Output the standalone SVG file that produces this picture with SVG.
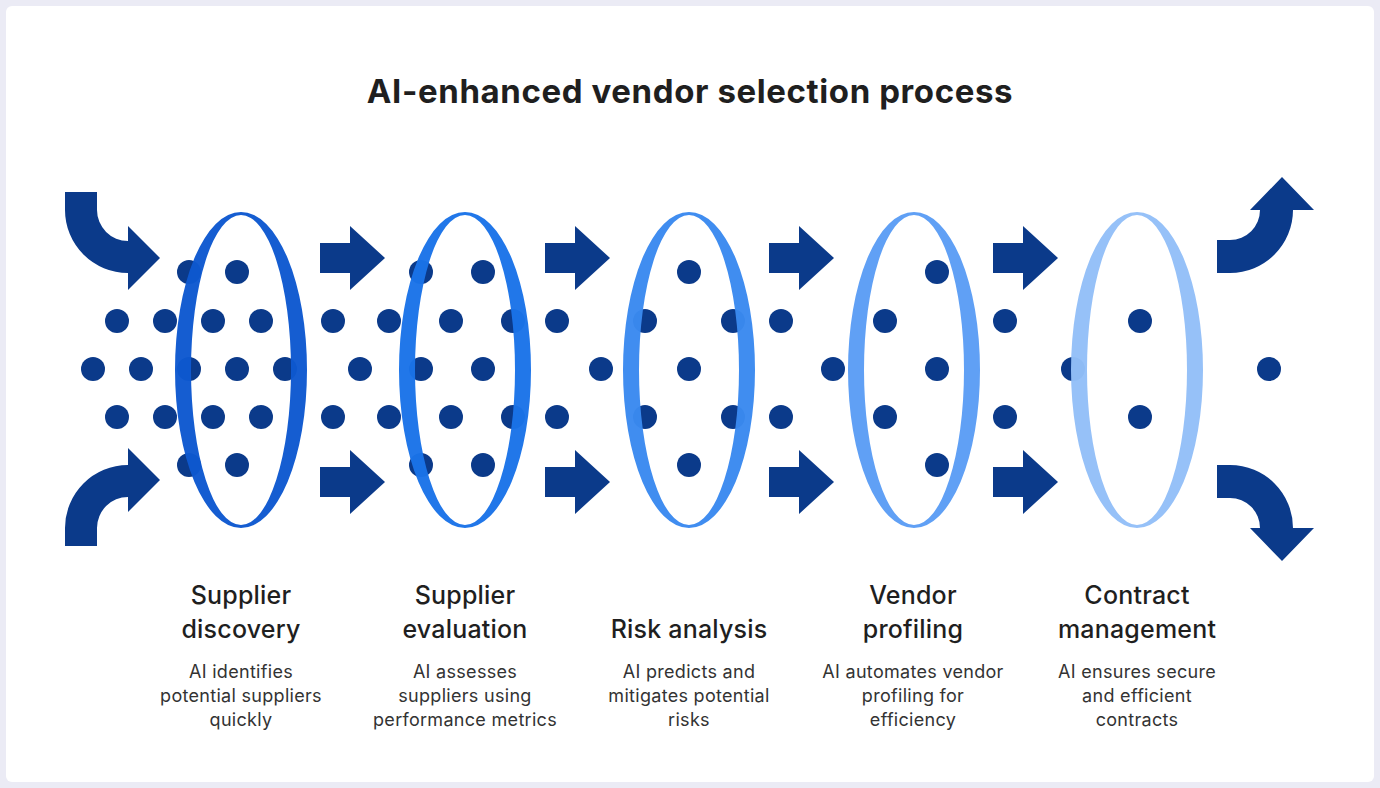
<svg xmlns="http://www.w3.org/2000/svg" width="1380" height="788" viewBox="0 0 1380 788">
<style>
.dot{fill:#0b3a8a}
.arr{fill:#0b3a8a}
.t{font-family:Inter,"Liberation Sans",sans-serif;text-anchor:middle}
.h{font-size:25px;font-weight:500;fill:#1f1f1f;letter-spacing:0.2px}
.d{font-size:18px;fill:#333;letter-spacing:0.3px}
</style>
<defs>
<path id="ring" fill-rule="evenodd" d="M-66,0 A66,158 0 1 0 66,0 A66,158 0 1 0 -66,0 Z M-50,0 A50,155 0 1 0 50,0 A50,155 0 1 0 -50,0 Z"/>
<path id="sa" d="M0,-15 H30 V-32 L65,0 L30,32 V15 H0 Z"/>
</defs>
<rect width="1380" height="788" fill="#ebebf5"/>
<rect x="6" y="6" width="1368" height="776" rx="6" fill="#fff"/>
<text class="t" x="690" y="103" font-size="33" font-weight="700" fill="#1f1f1f" letter-spacing="0.6">AI-enhanced vendor selection process</text>
<g id="connectors">
<path class="arr" d="M65,192 H97 V210 A31,31 0 0 0 128,241 V226 L160,258 L128,290 V273 A63,63 0 0 1 65,210 Z"/>
<path class="arr" d="M65,546 H97 V528 A31,31 0 0 1 128,497 V512 L160,480 L128,448 V465 A63,63 0 0 0 65,528 Z"/>
<path class="arr" d="M1217,240 H1230 A30,30 0 0 0 1260,210 H1250 L1282,177 L1314,210 H1293 A63,63 0 0 1 1230,273 H1217 Z"/>
<path class="arr" d="M1217,498 H1230 A30,30 0 0 1 1260,528 H1250 L1282,561 L1314,528 H1293 A63,63 0 0 0 1230,465 H1217 Z"/>
<use href="#sa" class="arr" x="320" y="258"/><use href="#sa" class="arr" x="320" y="482"/>
<use href="#sa" class="arr" x="545" y="258"/><use href="#sa" class="arr" x="545" y="482"/>
<use href="#sa" class="arr" x="769" y="258"/><use href="#sa" class="arr" x="769" y="482"/>
<use href="#sa" class="arr" x="993" y="258"/><use href="#sa" class="arr" x="993" y="482"/>
</g>
<g id="dots">
<circle class="dot" cx="189" cy="272" r="12"/><circle class="dot" cx="237" cy="272" r="12"/>
<circle class="dot" cx="117" cy="321" r="12"/><circle class="dot" cx="165" cy="321" r="12"/><circle class="dot" cx="213" cy="321" r="12"/><circle class="dot" cx="261" cy="321" r="12"/>
<circle class="dot" cx="93" cy="369" r="12"/><circle class="dot" cx="141" cy="369" r="12"/><circle class="dot" cx="189" cy="369" r="12"/><circle class="dot" cx="237" cy="369" r="12"/><circle class="dot" cx="285" cy="369" r="12"/>
<circle class="dot" cx="117" cy="417" r="12"/><circle class="dot" cx="165" cy="417" r="12"/><circle class="dot" cx="213" cy="417" r="12"/><circle class="dot" cx="261" cy="417" r="12"/>
<circle class="dot" cx="189" cy="465" r="12"/><circle class="dot" cx="237" cy="465" r="12"/>
<circle class="dot" cx="333" cy="321" r="12"/><circle class="dot" cx="389" cy="321" r="12"/><circle class="dot" cx="360" cy="369" r="12"/><circle class="dot" cx="333" cy="417" r="12"/><circle class="dot" cx="389" cy="417" r="12"/>
<circle class="dot" cx="421" cy="272" r="12"/><circle class="dot" cx="483" cy="272" r="12"/>
<circle class="dot" cx="451" cy="321" r="12"/><circle class="dot" cx="513" cy="321" r="12"/>
<circle class="dot" cx="421" cy="369" r="12"/><circle class="dot" cx="483" cy="369" r="12"/>
<circle class="dot" cx="451" cy="417" r="12"/><circle class="dot" cx="513" cy="417" r="12"/>
<circle class="dot" cx="421" cy="465" r="12"/><circle class="dot" cx="483" cy="465" r="12"/>
<circle class="dot" cx="557" cy="321" r="12"/><circle class="dot" cx="601" cy="369" r="12"/><circle class="dot" cx="557" cy="417" r="12"/>
<circle class="dot" cx="689" cy="272" r="12"/><circle class="dot" cx="645" cy="321" r="12"/><circle class="dot" cx="733" cy="321" r="12"/><circle class="dot" cx="689" cy="369" r="12"/><circle class="dot" cx="645" cy="417" r="12"/><circle class="dot" cx="733" cy="417" r="12"/><circle class="dot" cx="689" cy="465" r="12"/>
<circle class="dot" cx="781" cy="321" r="12"/><circle class="dot" cx="833" cy="369" r="12"/><circle class="dot" cx="781" cy="417" r="12"/>
<circle class="dot" cx="937" cy="272" r="12"/><circle class="dot" cx="885" cy="321" r="12"/><circle class="dot" cx="937" cy="369" r="12"/><circle class="dot" cx="885" cy="417" r="12"/><circle class="dot" cx="937" cy="465" r="12"/>
<circle class="dot" cx="1005" cy="321" r="12"/><circle class="dot" cx="1005" cy="417" r="12"/><circle class="dot" cx="1073" cy="369" r="12"/>
<circle class="dot" cx="1140" cy="321" r="12"/><circle class="dot" cx="1140" cy="417" r="12"/>
<circle class="dot" cx="1269" cy="369" r="12"/>
</g>
<g id="n1"><use href="#ring" x="241" y="370" fill="#0d58d0" opacity="0.97"/>
<text class="t h" x="241" y="604">Supplier</text><text class="t h" x="241" y="638">discovery</text>
<text class="t d" x="241" y="678">AI identifies</text><text class="t d" x="241" y="702">potential suppliers</text><text class="t d" x="241" y="726">quickly</text></g>
<g id="n2"><use href="#ring" x="465" y="370" fill="#1a73e8" opacity="0.97"/>
<text class="t h" x="465" y="604">Supplier</text><text class="t h" x="465" y="638">evaluation</text>
<text class="t d" x="465" y="678">AI assesses</text><text class="t d" x="465" y="702">suppliers using</text><text class="t d" x="465" y="726">performance metrics</text></g>
<g id="n3"><use href="#ring" x="689" y="370" fill="#3a89f0" opacity="0.97"/>
<text class="t h" x="689" y="638">Risk analysis</text>
<text class="t d" x="689" y="678">AI predicts and</text><text class="t d" x="689" y="702">mitigates potential</text><text class="t d" x="689" y="726">risks</text></g>
<g id="n4"><use href="#ring" x="914" y="370" fill="#5b9df5" opacity="0.97"/>
<text class="t h" x="913" y="604">Vendor</text><text class="t h" x="913" y="638">profiling</text>
<text class="t d" x="913" y="678">AI automates vendor</text><text class="t d" x="913" y="702">profiling for</text><text class="t d" x="913" y="726">efficiency</text></g>
<g id="n5"><use href="#ring" x="1137" y="370" fill="#93bff8" opacity="0.97"/>
<text class="t h" x="1137" y="604">Contract</text><text class="t h" x="1137" y="638">management</text>
<text class="t d" x="1137" y="678">AI ensures secure</text><text class="t d" x="1137" y="702">and efficient</text><text class="t d" x="1137" y="726">contracts</text></g>
</svg>
